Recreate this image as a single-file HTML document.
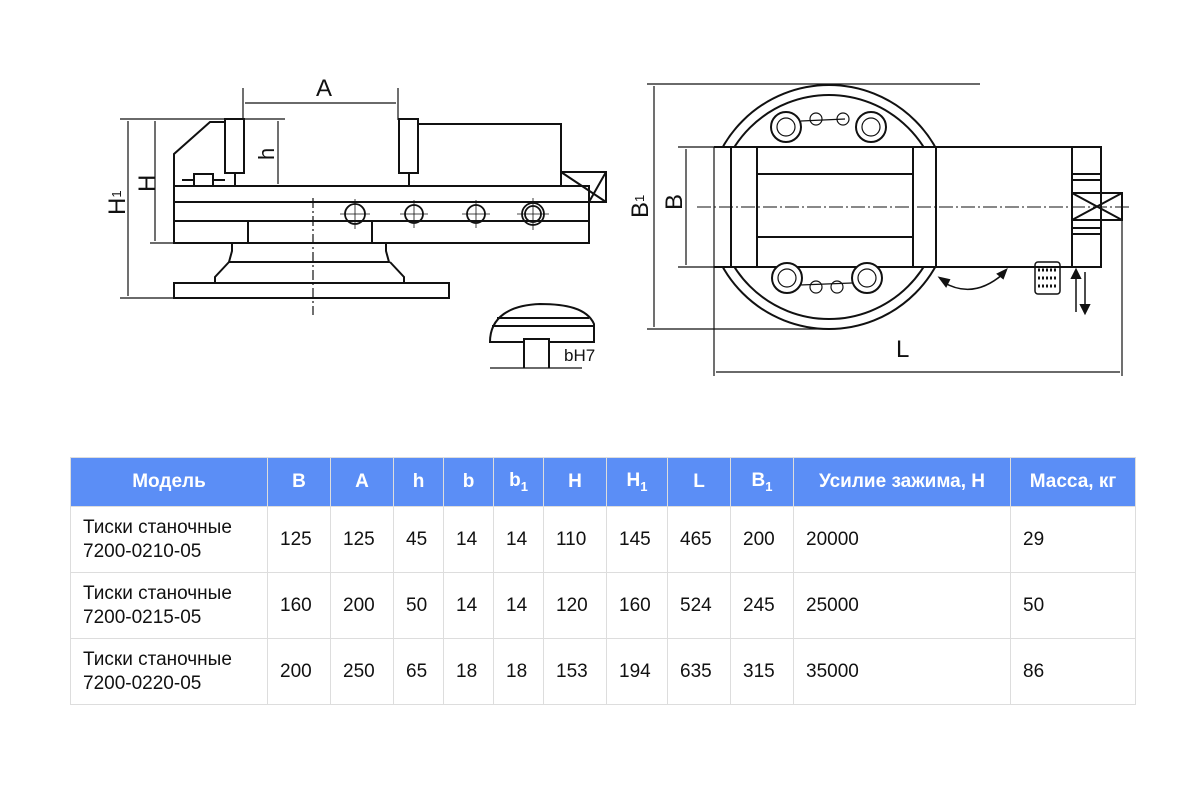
<!DOCTYPE html>
<html><head><meta charset="utf-8"><style>
body{margin:0;width:1194px;height:789px;background:#fff;overflow:hidden;font-family:"Liberation Sans",sans-serif}
svg{position:absolute;left:0;top:0}
table{position:absolute;left:70px;top:457px;border-collapse:collapse;font-size:19px;color:#111}
td,th{border:1px solid #ddd;padding:0 0 0 12px;text-align:left}
th{background:#5b8ef6;color:#fff;height:48px;font-weight:bold;text-align:center;padding:0}
td{height:65px;line-height:24px}
sub{font-size:13px}
</style></head><body>
<svg width="1194" height="450" viewBox="0 0 1194 450" fill="none" stroke="#111" stroke-width="2">
<g font-family="Liberation Sans" fill="#111" stroke="none" font-size="24">
<text x="316" y="96">A</text>
<text transform="translate(274,160) rotate(-90)" font-size="22">h</text>
<text transform="translate(155,192) rotate(-90)">H</text>
<text transform="translate(125,215) rotate(-90)">H<tspan font-size="13" dy="-4">1</tspan></text>
<text x="564" y="361" font-size="17">bH7</text>
<text transform="translate(682,210) rotate(-90)">B</text>
<text transform="translate(648,218) rotate(-90)">B<tspan font-size="13" dy="-4">1</tspan></text>
<text x="896" y="357">L</text>
</g>
<!-- left view -->
<g stroke-width="1.2">
<line x1="243" y1="88" x2="243" y2="120"/><line x1="398" y1="88" x2="398" y2="120"/>
<line x1="245" y1="103" x2="396" y2="103"/>
<line x1="120" y1="119" x2="225" y2="119"/><line x1="244" y1="119" x2="285" y2="119"/>
<line x1="128" y1="121" x2="128" y2="296"/><line x1="155" y1="121" x2="155" y2="241"/><line x1="278" y1="121" x2="278" y2="184"/>
<line x1="120" y1="298" x2="174" y2="298"/><line x1="150" y1="243" x2="174" y2="243"/>
<line x1="313" y1="198" x2="313" y2="315" stroke-dasharray="10 3 2 3"/>
</g>
<path d="M225 119h19v54h-19zM399 119h19v54h-19z"/>
<path d="M418 124h143v62M174 186V243h415V186zM174 202h415M174 221h74M372 221h217"/>
<path d="M174 186V154l36-32h15"/>
<path d="M194 174h19v12h-19zM182 180h12M213 180h12M235 173v13M409 173v13"/>
<path d="M561 172h45v30h-17M561 172l45 30M606 172l-17 30M589 186v16"/>
<path d="M248 243v-22h124v22"/>
<path d="M232 243v8l-3 11h160l-3-11v-8M229 262l-14 15v6h189v-6l-14-15M174 283h275v15H174z"/>
<g stroke-width="1.8"><circle cx="355" cy="214" r="10"/><circle cx="414" cy="214" r="9"/><circle cx="476" cy="214" r="9"/><circle cx="533" cy="214" r="11"/><circle cx="533" cy="214" r="8"/></g>
<g stroke-width="0.8"><path d="M340 214h30M355 199v30M400 214h28M414 200v28M462 214h28M476 200v28M517 214h32M533 198v32"/></g>
<!-- inset -->
<path d="M490 342c0-25 20-37 50-38c25 0 47 4 54 20v18H549v-3h-25v3zM492 326h101M497 318h92M524 342v26M549 342v26"/>
<path d="M490 368h92" stroke-width="1.2"/>
<!-- right view -->
<g stroke-width="1.2">
<line x1="647" y1="84" x2="980" y2="84"/><line x1="647" y1="329" x2="830" y2="329"/>
<line x1="654" y1="86" x2="654" y2="327"/><line x1="686" y1="149" x2="686" y2="265"/>
<line x1="678" y1="147" x2="714" y2="147"/><line x1="678" y1="267" x2="714" y2="267"/>
<line x1="1122" y1="220" x2="1122" y2="376"/>
<line x1="716" y1="372" x2="1120" y2="372"/>
</g>
<circle cx="829" cy="207" r="122"/><circle cx="829" cy="207" r="112"/>
<rect x="698" y="148" width="403" height="118" fill="#fff" stroke="none"/>
<line x1="714" y1="147" x2="714" y2="376" stroke-width="1.2"/>
<path d="M714 147h387v120H714M731 147v120M757 147v120M913 147v120M936 147v120M1072 147v120M757 174h156M757 237h156"/>
<path d="M1072 174h29M1072 180h29M1072 228h29M1072 234h29M1072 193h50v27h-50M1072 193l50 27M1122 193l-50 27"/>
<line x1="697" y1="207" x2="1130" y2="207" stroke-width="1" stroke-dasharray="14 3 2 3"/>
<g fill="#fff"><circle cx="786" cy="127" r="15"/><circle cx="871" cy="127" r="15"/><circle cx="787" cy="278" r="15"/><circle cx="867" cy="278" r="15"/></g>
<g stroke-width="1.2"><circle cx="786" cy="127" r="9"/><circle cx="871" cy="127" r="9"/><circle cx="787" cy="278" r="9"/><circle cx="867" cy="278" r="9"/>
<circle cx="816" cy="119" r="6"/><circle cx="843" cy="119" r="6"/><circle cx="816" cy="287" r="6"/><circle cx="837" cy="287" r="6"/>
<path d="M801 121l44-2M800 285l52-2"/></g>
<path d="M943 282q30 18 60-8" stroke-width="1.5"/>
<path d="M940 278l6 8l3-6zM1006 270l-8 4l5 4z" fill="#111"/>
<rect x="1035" y="262" width="25" height="32" rx="3" stroke-width="1.5"/>
<path d="M1038 270h19M1038 278h19M1038 286h19" stroke-width="3" stroke-dasharray="2 2"/>
<path d="M1076 312v-40M1085 272v40" stroke-width="1.5"/>
<path d="M1072 278l4-8l4 8zM1081 305l4 8l4-8z" fill="#111"/>
</svg>
<table>
<tr><th style="width:196px">Модель</th><th style="width:62px">B</th><th style="width:62px">A</th><th style="width:49px">h</th><th style="width:49px">b</th><th style="width:49px">b<sub>1</sub></th><th style="width:62px">H</th><th style="width:60px">H<sub>1</sub></th><th style="width:62px">L</th><th style="width:62px">B<sub>1</sub></th><th style="width:216px">Усилие зажима, Н</th><th style="width:124px">Масса, кг</th></tr>
<tr><td>Тиски станочные<br>7200-0210-05</td><td>125</td><td>125</td><td>45</td><td>14</td><td>14</td><td>110</td><td>145</td><td>465</td><td>200</td><td>20000</td><td>29</td></tr>
<tr><td>Тиски станочные<br>7200-0215-05</td><td>160</td><td>200</td><td>50</td><td>14</td><td>14</td><td>120</td><td>160</td><td>524</td><td>245</td><td>25000</td><td>50</td></tr>
<tr><td>Тиски станочные<br>7200-0220-05</td><td>200</td><td>250</td><td>65</td><td>18</td><td>18</td><td>153</td><td>194</td><td>635</td><td>315</td><td>35000</td><td>86</td></tr>
</table>
</body></html>
